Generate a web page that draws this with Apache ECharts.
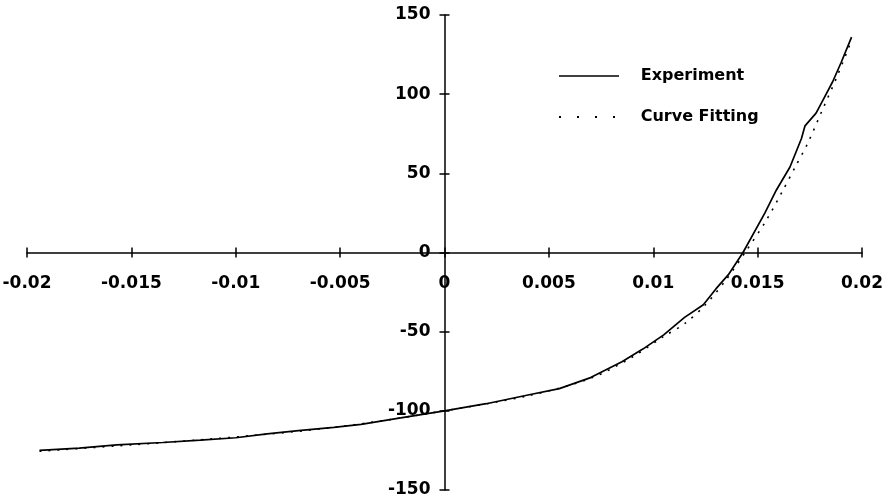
<!DOCTYPE html>
<html>
<head>
<meta charset="utf-8">
<script src="https://cdn.jsdelivr.net/npm/echarts@6/dist/echarts.min.js"></script>
<style>
  html, body { margin: 0; padding: 0; background: #fff; }
  #chart { width: 889px; height: 501px; }
</style>
</head>
<body>
<div id="chart"></div>
<script>
// Strain values (x) and stress response (y)
const expX = [-0.0194, -0.0175, -0.0157, -0.0135, -0.0117, -0.0100, -0.0085, -0.0070, -0.0053, -0.0040,
              -0.0021, 0.0000, 0.0020, 0.0040, 0.0055, 0.0070, 0.0085, 0.0095, 0.0105, 0.0115,
              0.0124, 0.0130, 0.0136, 0.0143, 0.01535, 0.0159, 0.01655, 0.0171, 0.01727, 0.0178,
              0.0182, 0.0186, 0.0190, 0.0195];
const expY = [-125, -123.5, -121.5, -120, -118.5, -117, -114.5, -112.5, -110.5, -108.5,
              -104.5, -100, -95.5, -90, -86, -79, -69, -61, -52, -41,
              -33, -23, -14, 0, 25, 39.5, 54, 72, 80, 88,
              98, 108, 120, 136];

const fitX = [-0.0194, -0.0150, -0.0100, -0.0050, 0.0000, 0.0040, 0.0070, 0.0090, 0.0105, 0.0115,
              0.0125, 0.0135, 0.0144, 0.0154, 0.0162, 0.0168, 0.0174, 0.0181, 0.0188, 0.0195];
const fitY = [-125.5, -121.5, -116.5, -110, -100, -90.5, -79.5, -66, -53, -45,
              -33, -17, 0, 20, 39, 54, 69, 90, 111, 134];

const xTicks = [-0.02, -0.015, -0.01, -0.005, 0, 0.005, 0.01, 0.015, 0.02];
const xTickLabels = ['-0.02', '-0.015', '-0.01', '-0.005', '0', '0.005', '0.01', '0.015', '0.02'];
const yTicks = [-150, -100, -50, 0, 50, 100, 150];
const yTickLabels = ['-150', '-100', '-50', '0', '50', '100', '150'];

const seriesNames = ['Experiment', 'Curve Fitting'];

const X_MIN = -0.02, X_MAX = 0.02, Y_MIN = -150, Y_MAX = 150;
const FONT = 'DejaVu Sans';
const GRID = { left: 27, right: 27, top: 15, bottom: 11 };
const W = 889, H = 501;

function pairs(xs, ys) { return xs.map((x, i) => [x, ys[i]]); }
function labelFor(ticks, labels) {
  return function (v) {
    let best = 0;
    for (let i = 1; i < ticks.length; i++) {
      if (Math.abs(ticks[i] - v) < Math.abs(ticks[best] - v)) best = i;
    }
    return labels[best];
  };
}

const tickStyle = { color: '#000', width: 1.5 };
const labelFont = { color: '#000', fontFamily: FONT, fontWeight: 'bold', fontSize: 17 };

// Distances from each grid edge to the zero lines, so that every axis can be
// slid onto the origin with a (negative) offset.
const gridH = H - GRID.top - GRID.bottom;
const gridW = W - GRID.left - GRID.right;
const zeroFromTop = gridH * (Y_MAX - 0) / (Y_MAX - Y_MIN);
const zeroFromBottom = gridH - zeroFromTop;
const zeroFromRight = gridW * (X_MAX - 0) / (X_MAX - X_MIN);
const zeroFromLeft = gridW - zeroFromRight;

// A labelled axis plus a bare companion on the opposite side give cross-shaped ticks.
function xAxisAt(position, offset, withLabels, withLine) {
  return {
    type: 'value', min: X_MIN, max: X_MAX, interval: 0.005,
    position: position, offset: offset,
    axisLine: { show: withLine, onZero: false, lineStyle: tickStyle },
    axisTick: { show: true, length: 5, lineStyle: tickStyle },
    axisLabel: withLabels
      ? Object.assign({ show: true, margin: 23, formatter: labelFor(xTicks, xTickLabels) }, labelFont)
      : { show: false },
    splitLine: { show: false }
  };
}
function yAxisAt(position, offset, withLabels, withLine) {
  return {
    type: 'value', min: Y_MIN, max: Y_MAX, interval: 50,
    position: position, offset: offset,
    axisLine: { show: withLine, onZero: false, lineStyle: tickStyle },
    axisTick: { show: true, length: 5, lineStyle: tickStyle },
    axisLabel: withLabels
      ? Object.assign({ show: true, margin: 14, formatter: labelFor(yTicks, yTickLabels) }, labelFont)
      : { show: false },
    splitLine: { show: false }
  };
}

const chart = echarts.init(document.getElementById('chart'), null, { renderer: 'canvas' });

chart.setOption({
  animation: false,
  backgroundColor: '#fff',
  grid: Object.assign({ containLabel: false, outerBoundsMode: 'none' }, GRID),
  xAxis: [
    xAxisAt('bottom', -zeroFromBottom, true, true),
    xAxisAt('top', -zeroFromTop, false, false)
  ],
  yAxis: [
    yAxisAt('left', -zeroFromLeft, true, true),
    yAxisAt('right', -zeroFromRight, false, false)
  ],
  legend: {
    show: true,
    orient: 'vertical',
    left: 553, top: 63,
    itemWidth: 60, itemHeight: 16, itemGap: 25,
    textStyle: { color: '#000', fontFamily: FONT, fontWeight: 'bold', fontSize: 16 },
    formatter: function (name) { return '   ' + name; },
    data: [
      { name: seriesNames[0], itemStyle: { opacity: 0 },
        lineStyle: { color: '#000', width: 1.5, type: 'solid' } },
      { name: seriesNames[1], itemStyle: { opacity: 0 },
        lineStyle: { color: '#000', width: 2, type: [2, 16] } }
    ]
  },
  series: [
    {
      name: seriesNames[0], type: 'line', xAxisIndex: 0, yAxisIndex: 0,
      data: pairs(expX, expY), showSymbol: false, symbol: 'none',
      lineStyle: { color: '#000', width: 1.7 }, itemStyle: { color: '#000' }
    },
    {
      name: seriesNames[1], type: 'line', xAxisIndex: 0, yAxisIndex: 0,
      data: pairs(fitX, fitY), smooth: 0.3, showSymbol: false, symbol: 'none',
      lineStyle: { color: '#000', width: 1.6, type: [2, 7] }, itemStyle: { color: '#000' }
    }
  ]
});
</script>
</body>
</html>
